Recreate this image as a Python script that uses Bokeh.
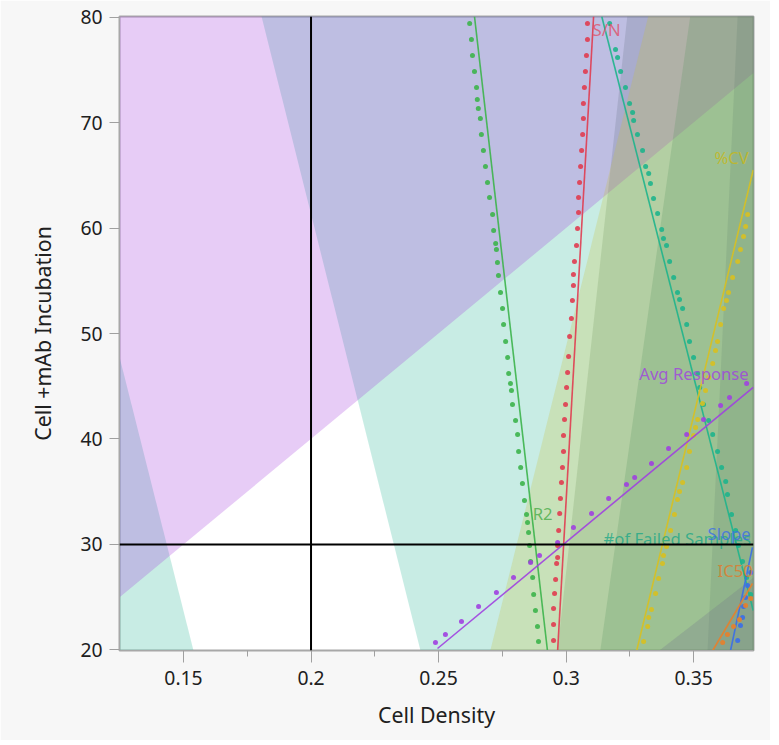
from bokeh.plotting import figure
from bokeh.models import Range1d, FixedTicker, CustomJSTickFormatter, Span
from bokeh.embed import file_html
from bokeh.resources import INLINE
from bokeh.core.properties import value

# ---------------- axes ----------------
X_RANGE = (0.1249, 0.3735)
Y_RANGE = (19.95, 80.05)
x_ticks = [0.15, 0.2, 0.25, 0.3, 0.35]
x_minor = [0.175, 0.225, 0.275, 0.325]
y_ticks = [20, 30, 40, 50, 60, 70, 80]
x_title = "Cell Density"
y_title = "Cell +mAb Incubation"
current_x = 0.2
current_y = 30

# ---------------- limit (shading) contours ----------------
avg_limit_x = [0.1253, 0.3732]
avg_limit_y = [25.07, 74.64]
failed_hi_x = [0.1806, 0.2429]
failed_hi_y = [80.05, 19.95]
failed_lo_x = [0.1292, 0.1539]
failed_lo_y = [43.65, 19.95]
cv_limit_x = [0.2704, 0.3324]
cv_limit_y = [20.05, 80.24]
sn_limit_x = [0.2967, 0.3241]
sn_limit_y = [20.05, 80.24]
r2_limit_x = [0.3135, 0.3488]
r2_limit_y = [20.05, 80.24]
slope_limit_x = [0.3555, 0.3673]
slope_limit_y = [20.05, 80.24]
ic50_limit_x = [0.3371, 0.3731]
ic50_limit_y = [20.05, 26.78]

# ---------------- response contour lines ----------------
r2_x = [0.2641, 0.2927]
r2_y = [80.05, 19.95]
sn_x = [0.3108, 0.2967]
sn_y = [80.05, 19.95]
failed_x = [0.3140, 0.3734]
failed_y = [80.05, 23.74]
cv_x = [0.3277, 0.3734]
cv_y = [19.95, 65.5]
avg_x = [0.2496, 0.3734]
avg_y = [20.14, 44.9]
slope_x = [0.3645, 0.3731]
slope_y = [19.95, 29.72]
ic50_x = [0.3575, 0.3731]
ic50_y = [19.95, 26.3]

# ---------------- dotted side markers ----------------
r2_dot_x = [0.2622, 0.2629, 0.2633, 0.2641, 0.2649, 0.2652, 0.2656, 0.2664, 0.2668, 0.2676,
            0.2684, 0.2692, 0.2700, 0.2712, 0.2716, 0.2724, 0.2727, 0.2731, 0.2735, 0.2743,
            0.2751, 0.2755, 0.2763, 0.2771, 0.2775, 0.2782, 0.2786, 0.2790, 0.2802, 0.2810,
            0.2814, 0.2822, 0.2829, 0.2837, 0.2845, 0.2849, 0.2853, 0.2857, 0.2861, 0.2869,
            0.2873, 0.2880, 0.2888, 0.2892]
r2_dot_y = [79.38, 77.87, 76.35, 74.83, 73.32, 72.18, 71.33, 70.38, 68.86, 67.35,
            65.83, 64.31, 62.89, 61.28, 59.76, 58.53, 57.96, 56.73, 55.50, 53.89,
            52.37, 50.85, 49.24, 47.73, 46.21, 45.26, 44.60, 43.27, 41.75, 40.43,
            38.82, 37.30, 35.78, 34.17, 32.84, 32.09, 31.14, 29.91, 28.39, 26.87,
            25.26, 23.74, 22.23, 20.81]
sn_dot_x = [0.3084, 0.3084, 0.3080, 0.3076, 0.3072, 0.3068, 0.3068, 0.3065, 0.3061, 0.3057,
            0.3053, 0.3049, 0.3049, 0.3045, 0.3041, 0.3033, 0.3029, 0.3029, 0.3025, 0.3021,
            0.3014, 0.3010, 0.3006, 0.3002, 0.2998, 0.2994, 0.2990, 0.2990, 0.2986, 0.2982,
            0.2978, 0.2975, 0.2971, 0.2967, 0.2967, 0.2963, 0.2959, 0.2955, 0.2951, 0.2951,
            0.2951]
sn_dot_y = [79.38, 77.87, 76.35, 74.83, 73.32, 71.80, 70.38, 68.86, 67.35, 65.83,
            64.31, 62.89, 61.47, 59.95, 58.34, 56.82, 55.59, 54.55, 53.13, 51.42,
            49.72, 47.82, 46.30, 44.88, 43.27, 41.85, 40.33, 38.82, 37.30, 35.88,
            34.36, 32.94, 31.33, 29.91, 28.77, 28.20, 26.68, 25.36, 23.93, 22.42,
            20.90]
failed_dot_x = [0.3171, 0.3194, 0.3202, 0.3214, 0.3233, 0.3249, 0.3261, 0.3265, 0.3280, 0.3300,
                0.3312, 0.3324, 0.3331, 0.3343, 0.3359, 0.3375, 0.3382, 0.3394, 0.3406, 0.3422,
                0.3437, 0.3445, 0.3457, 0.3473, 0.3484, 0.3500, 0.3516, 0.3524, 0.3539, 0.3559,
                0.3575, 0.3594, 0.3610, 0.3626, 0.3633, 0.3649, 0.3665, 0.3676, 0.3692, 0.3708,
                0.3724]
failed_dot_y = [79.38, 76.92, 76.16, 74.83, 73.32, 71.80, 70.95, 70.19, 68.86, 67.35,
                65.83, 65.17, 64.22, 62.80, 61.37, 59.86, 59.00, 58.34, 56.82, 55.31,
                53.89, 53.22, 52.37, 50.85, 49.24, 47.73, 46.21, 44.88, 43.27, 41.75,
                40.43, 38.82, 37.30, 35.97, 34.74, 32.84, 31.33, 29.91, 28.39, 26.87,
                25.26]
cv_dot_x = [0.3712, 0.3704, 0.3696, 0.3684, 0.3673, 0.3653, 0.3637, 0.3629, 0.3618, 0.3606,
            0.3594, 0.3586, 0.3575, 0.3559, 0.3547, 0.3535, 0.3516, 0.3508, 0.3500, 0.3484,
            0.3473, 0.3457, 0.3445, 0.3437, 0.3425, 0.3410, 0.3394, 0.3382, 0.3378, 0.3363,
            0.3351, 0.3335, 0.3324, 0.3320, 0.3304]
cv_dot_y = [61.28, 60.14, 59.19, 57.96, 56.82, 55.31, 53.89, 53.13, 52.37, 50.85,
            49.24, 48.39, 47.16, 45.83, 44.60, 43.36, 41.85, 41.09, 40.33, 38.82,
            37.30, 35.88, 35.02, 34.27, 32.84, 31.33, 29.81, 28.96, 28.20, 26.78,
            25.36, 23.84, 23.08, 22.23, 20.81]
avg_dot_x = [0.2488, 0.2527, 0.2590, 0.2657, 0.2727, 0.2794, 0.2861, 0.2896, 0.2967, 0.3029,
             0.3100, 0.3167, 0.3237, 0.3269, 0.3335, 0.3402, 0.3473, 0.3539, 0.3606, 0.3641,
             0.3708]
avg_dot_y = [20.71, 21.47, 22.70, 24.12, 25.45, 26.87, 28.29, 28.96, 30.19, 31.61,
             32.94, 34.36, 35.69, 36.35, 37.68, 39.10, 40.43, 41.85, 43.18, 43.93,
             45.26]
slope_dot_x = [0.3673, 0.3684, 0.3692, 0.3696, 0.3704, 0.3712, 0.3724]
slope_dot_y = [20.90, 22.32, 23.08, 24.12, 24.98, 26.10, 27.35]
ic50_dot_x = [0.3614, 0.3633, 0.3657, 0.3680, 0.3704, 0.3724]
ic50_dot_y = [20.71, 21.47, 22.23, 22.89, 24.22, 24.88]

# ---------------- labels ----------------
label_text = ["S/N", "%CV", "Avg Response", "R2", "#of Failed Samples", "Slope", "IC50"]
label_x = [0.3104, 0.3582, 0.3716, 0.2869, 0.3147, 0.3555, 0.3594]
label_y = [78.8, 66.7, 46.2, 32.9, 30.57, 31.0, 27.5]
label_align = ["left", "left", "right", "left", "left", "left", "left"]
label_color = ["#e0506a", "#c8b818", "#a040e0", "#48ac48", "#1ea888", "#3a6ee8", "#e07a2a"]

COL = {
    "purple": "#a032dc", "teal": "#23b393", "yellow": "#c8c038",
    "gray_green": "#5a9070", "green": "#5a9664", "dark": "#4c6a5c", "gray": "#70708c",
}

# drawing order matters for the blended colours
shadings = [
    (failed_hi_x, failed_hi_y, "right", COL["teal"], 0.25),
    (failed_lo_x, failed_lo_y, "left", COL["teal"], 0.25),
    (sn_limit_x, sn_limit_y, "right", COL["gray_green"], 0.25),
    (avg_limit_x, avg_limit_y, "above", COL["purple"], 0.25),
    (cv_limit_x, cv_limit_y, "right", COL["yellow"], 0.25),
    (r2_limit_x, r2_limit_y, "right", COL["green"], 0.25),
    (slope_limit_x, slope_limit_y, "right", COL["dark"], 0.15),
    (ic50_limit_x, ic50_limit_y, "below", COL["gray"], 0.25),
]


def side_fn(lx, ly, side):
    x1, x2 = lx
    y1, y2 = ly
    if side in ("above", "below"):
        s = 1.0 if side == "above" else -1.0
        return lambda q: s * (q[1] - (y1 + (y2 - y1) * (q[0] - x1) / (x2 - x1)))
    s = 1.0 if side == "right" else -1.0
    return lambda q: s * (q[0] - (x1 + (x2 - x1) * (q[1] - y1) / (y2 - y1)))


def clip(poly, g):
    out = []
    n = len(poly)
    for i in range(n):
        a, b = poly[i], poly[(i + 1) % n]
        ga, gb = g(a), g(b)
        if ga >= 0:
            out.append(a)
        if (ga >= 0) != (gb >= 0):
            t = ga / (ga - gb)
            out.append((a[0] + t * (b[0] - a[0]), a[1] + t * (b[1] - a[1])))
    return out


p = figure(width=770, height=740, output_backend="svg", toolbar_location=None,
           x_range=Range1d(*X_RANGE), y_range=Range1d(*Y_RANGE),
           min_border_left=119, min_border_right=17, min_border_top=16, min_border_bottom=90)
p.background_fill_color = "white"
p.border_fill_color = "#f7f7f7"
p.outline_line_color = "#a8a8a8"
p.outline_line_width = 2
p.xgrid.visible = False
p.ygrid.visible = False

rect = [(X_RANGE[0] - 0.01, Y_RANGE[0] - 2), (X_RANGE[1] + 0.01, Y_RANGE[0] - 2),
        (X_RANGE[1] + 0.01, Y_RANGE[1] + 2), (X_RANGE[0] - 0.01, Y_RANGE[1] + 2)]
for lx, ly, side, col, alpha in shadings:
    poly = clip(rect, side_fn(lx, ly, side))
    if len(poly) >= 3:
        p.patch([q[0] for q in poly], [q[1] for q in poly], fill_color=col,
                fill_alpha=alpha, line_color=None)

series = [
    (r2_x, r2_y, r2_dot_x, r2_dot_y, "#3cb44b"),
    (sn_x, sn_y, sn_dot_x, sn_dot_y, "#e03c50"),
    (failed_x, failed_y, failed_dot_x, failed_dot_y, "#1eb48c"),
    (cv_x, cv_y, cv_dot_x, cv_dot_y, "#d8c020"),
    (avg_x, avg_y, avg_dot_x, avg_dot_y, "#a040e0"),
    (slope_x, slope_y, slope_dot_x, slope_dot_y, "#3a6ee8"),
    (ic50_x, ic50_y, ic50_dot_x, ic50_dot_y, "#e8802a"),
]
for lx, ly, dx, dy, col in series:
    p.line(lx, ly, line_color=col, line_width=1.6, line_alpha=0.9)
    p.scatter(dx, dy, size=5, fill_color=col, line_color=None, fill_alpha=0.9)

p.text(x=label_x, y=label_y, text=label_text, text_align=label_align,
       text_baseline="middle", text_color=label_color, text_alpha=0.8,
       text_font=value("Noto Sans"), text_font_size="12.5pt")

p.add_layout(Span(location=current_x, dimension="height", line_color="black", line_width=2))
p.add_layout(Span(location=current_y, dimension="width", line_color="black", line_width=2))

for ax in (p.xaxis[0], p.yaxis[0]):
    ax.axis_line_color = "#a8a8a8"
    ax.major_tick_line_color = "#a0a0a0"
    ax.minor_tick_line_color = "#a0a0a0"
    ax.major_tick_in = 0
    ax.minor_tick_in = 0
    ax.major_label_text_font = "Noto Sans"
    ax.major_label_text_font_size = "14.5pt"
    ax.major_label_text_color = "#202020"
    ax.axis_label_text_font = "Noto Sans"
    ax.axis_label_text_font_size = "16pt"
    ax.axis_label_text_font_style = "normal"
    ax.axis_label_text_color = "#202020"

p.xaxis.ticker = FixedTicker(ticks=x_ticks, minor_ticks=x_minor)
p.xaxis.formatter = CustomJSTickFormatter(code="return String(Math.round(tick*1000)/1000);")
p.xaxis.major_tick_out = 12
p.xaxis.minor_tick_out = 6
p.xaxis.major_label_standoff = 8
p.xaxis.axis_label = x_title
p.xaxis.axis_label_standoff = 12

p.yaxis.ticker = FixedTicker(ticks=y_ticks, minor_ticks=[])
p.yaxis.major_tick_out = 10
p.yaxis.major_label_standoff = 7
p.yaxis.axis_label = y_title
p.yaxis.axis_label_standoff = 20

open("out.html", "w").write(file_html(p, INLINE))
